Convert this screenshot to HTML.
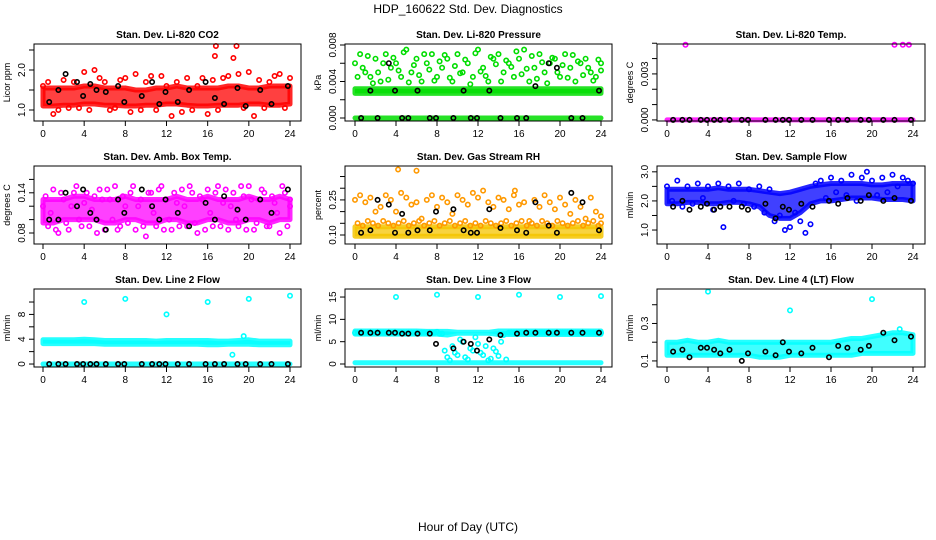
<!DOCTYPE html>
<html><head><meta charset="utf-8"><style>
body{margin:0;background:#fff;}
svg{display:block;font-family:"Liberation Sans",sans-serif;}
</style></head><body>
<svg id="chart" width="936" height="540" viewBox="0 0 936 540">
<text x="468" y="13" text-anchor="middle" font-size="12">HDP_160622  Std. Dev. Diagnostics</text>
<text x="468" y="531" text-anchor="middle" font-size="12">Hour of Day (UTC)</text>
</svg>
<script>
// ---------- data ----------
const xTicks=[0,4,8,12,16,20,24];
const halfHours=[0,0.5,1,1.5,2,2.5,3,3.5,4,4.5,5,5.5,6,6.5,7,7.5,8,8.5,9,9.5,10,10.5,11,11.5,12,12.5,13,13.5,14,14.5,15,15.5,16,16.5,17,17.5,18,18.5,19,19.5,20,20.5,21,21.5,22,22.5,23,23.5,24];
const hours=[0,1,2,3,4,5,6,7,8,9,10,11,12,13,14,15,16,17,18,19,20,21,22,23,24];
const blackHours=[0.6,1.5,2.2,3.3,3.9,4.6,5.2,6.1,7.3,7.9,9.6,10.6,11.3,11.9,13.1,14.2,15.8,16.7,17.6,18.9,19.7,21.1,22.2,23.8];

// CO2
const co2Lo=[1.1,1.1,1.12,1.12,1.15,1.15,1.12,1.12,1.1,1.1,1.12,1.12,1.15,1.15,1.12,1.1,1.1,1.12,1.12,1.12,1.15,1.15,1.12,1.12,1.15];
const co2Hi=[1.55,1.55,1.55,1.55,1.6,1.6,1.55,1.55,1.55,1.5,1.5,1.55,1.55,1.6,1.55,1.55,1.55,1.55,1.6,1.6,1.55,1.55,1.6,1.6,1.6];
const co2Sc=[1.6,1.7,0.9,1.0,1.75,1.05,1.7,1.05,1.95,1.0,2.0,1.8,1.7,1.0,1.05,1.75,1.8,0.95,1.9,1.0,1.7,1.85,1.0,1.85,1.6,0.85,1.7,0.95,1.8,1.0,1.6,1.8,0.9,1.75,1.0,1.8,1.85,2.3,1.9,1.05,1.95,0.85,1.75,1.05,1.7,1.85,1.9,1.05,1.8];
const co2OutH=[16.8,18.8,16.7];
const co2OutV=[2.6,2.6,2.35];
const co2Bk=[1.2,1.5,1.9,1.7,1.35,1.65,1.5,1.45,1.6,1.2,1.35,1.7,1.15,1.45,1.2,1.5,1.7,1.3,1.15,1.55,1.1,1.5,1.15,1.6];

// Pressure
const prLo=[0.0027,0.0027,0.0027,0.0027,0.0027,0.0027,0.0027,0.0027,0.0027,0.0027,0.0027,0.0027,0.0027,0.0027,0.0027,0.0027,0.0027,0.0027,0.0027,0.0027,0.0027,0.0027,0.0027,0.0027,0.0027];
const prHi=[0.0032,0.0032,0.0032,0.0032,0.0032,0.0032,0.0032,0.0032,0.0032,0.0032,0.0032,0.0032,0.0032,0.0032,0.0032,0.0032,0.0032,0.0032,0.0032,0.0032,0.0032,0.0032,0.0032,0.0032,0.0032];
const prZero=[0,0,0,0,0,0,0,0,0,0,0,0,0,0,0,0,0,0,0,0,0,0,0,0,0];
const prSc=[0.006,0.007,0.005,0.0045,0.0065,0.004,0.007,0.0055,0.006,0.0045,0.0075,0.005,0.0065,0.004,0.006,0.007,0.0045,0.0055,0.0065,0.004,0.007,0.005,0.006,0.0045,0.0075,0.0055,0.004,0.0065,0.007,0.005,0.006,0.0045,0.0065,0.0075,0.004,0.0055,0.007,0.005,0.006,0.0065,0.0045,0.007,0.0055,0.004,0.006,0.0065,0.005,0.0045,0.006];
const prSc2=[0.0045,0.0055,0.0068,0.0038,0.005,0.006,0.0042,0.0066,0.0052,0.0072,0.0039,0.0058,0.0047,0.007,0.0053,0.0041,0.0062,0.0069,0.0044,0.0057,0.0049,0.0064,0.0037,0.0071,0.0051,0.0046,0.0067,0.0059,0.004,0.0063,0.0056,0.0073,0.0048,0.0054,0.0068,0.0043,0.0061,0.0038,0.0066,0.005,0.0058,0.0044,0.0069,0.0062,0.0047,0.0055,0.0041,0.0064,0.0052];
const prBk=[0,0.003,0,0.006,0.003,0,0,0.003,0,0,0,0.003,0,0,0.003,0,0,0,0.0035,0.006,0.0055,0,0,0.003];

// Temp
const tpZero=[0,0,0,0,0,0,0,0,0,0,0,0,0,0,0,0,0,0,0,0,0,0,0,0,0];
const tpOutH=[1.8,22.2,23.0,23.6];
const tpOutV=[0.0049,0.0049,0.0049,0.0049];
const tpBk=[0,0,0,0,0,0,0,0,0,0,0,0,0,0,0,0,0,0,0,0,0,0,0,0];

// Amb box temp
const abLo=[0.095,0.095,0.1,0.1,0.1,0.1,0.095,0.095,0.1,0.1,0.095,0.095,0.1,0.1,0.095,0.095,0.1,0.1,0.095,0.095,0.1,0.1,0.095,0.1,0.1];
const abHi=[0.13,0.13,0.13,0.135,0.135,0.13,0.13,0.13,0.135,0.13,0.13,0.13,0.13,0.135,0.13,0.13,0.135,0.13,0.13,0.13,0.135,0.13,0.13,0.135,0.13];
const abSc=[0.12,0.09,0.145,0.08,0.13,0.085,0.14,0.1,0.125,0.09,0.135,0.145,0.085,0.13,0.15,0.09,0.12,0.14,0.085,0.13,0.075,0.14,0.09,0.15,0.13,0.085,0.125,0.145,0.09,0.14,0.08,0.13,0.145,0.09,0.15,0.125,0.085,0.14,0.09,0.135,0.15,0.085,0.13,0.14,0.09,0.125,0.08,0.14,0.12];
const abSc2=[0.135,0.11,0.085,0.14,0.095,0.12,0.15,0.09,0.14,0.115,0.08,0.13,0.145,0.1,0.085,0.135,0.095,0.15,0.12,0.09,0.14,0.11,0.145,0.085,0.1,0.14,0.09,0.12,0.15,0.095,0.135,0.085,0.11,0.14,0.09,0.145,0.12,0.1,0.15,0.085,0.13,0.095,0.145,0.09,0.135,0.11,0.15,0.09,0.13];
const abBk=[0.10,0.10,0.14,0.12,0.145,0.11,0.10,0.085,0.13,0.11,0.145,0.12,0.10,0.13,0.11,0.09,0.125,0.10,0.135,0.115,0.10,0.13,0.11,0.145];

// Gas stream RH
const rhLo=[0.095,0.095,0.095,0.095,0.095,0.095,0.095,0.095,0.095,0.095,0.095,0.095,0.095,0.095,0.095,0.095,0.095,0.095,0.095,0.095,0.095,0.095,0.095,0.095,0.095];
const rhHi=[0.135,0.135,0.135,0.135,0.135,0.135,0.135,0.135,0.135,0.135,0.135,0.135,0.135,0.135,0.135,0.135,0.135,0.135,0.135,0.135,0.135,0.135,0.135,0.135,0.135];
const rhSc=[0.25,0.27,0.24,0.26,0.2,0.22,0.27,0.25,0.2,0.28,0.26,0.23,0.24,0.17,0.25,0.27,0.22,0.26,0.24,0.19,0.27,0.25,0.23,0.28,0.26,0.29,0.24,0.22,0.26,0.25,0.21,0.27,0.23,0.24,0.16,0.25,0.22,0.27,0.24,0.21,0.26,0.23,0.19,0.25,0.22,0.17,0.26,0.2,0.18];
const rhSc2=[0.15,0.14,0.16,0.15,0.14,0.16,0.15,0.14,0.15,0.16,0.14,0.15,0.16,0.14,0.15,0.16,0.14,0.15,0.16,0.14,0.15,0.16,0.14,0.15,0.14,0.16,0.15,0.14,0.15,0.16,0.14,0.15,0.16,0.14,0.15,0.14,0.16,0.15,0.14,0.16,0.15,0.14,0.15,0.16,0.14,0.15,0.16,0.14,0.15];
const rhOutH=[4.2,6.0,15.6];
const rhOutV=[0.38,0.375,0.29];
const rhBk=[0.11,0.12,0.25,0.23,0.11,0.19,0.11,0.12,0.12,0.2,0.21,0.12,0.11,0.11,0.21,0.13,0.12,0.11,0.24,0.14,0.11,0.28,0.24,0.12];

// Sample flow
const sfLo=[1.9,1.9,1.95,1.95,1.9,1.9,1.95,1.95,1.9,1.8,1.5,1.4,1.4,1.6,1.9,2.0,2.0,2.05,2.1,2.1,2.1,2.05,2.05,2.05,2.0];
const sfHi=[2.4,2.4,2.4,2.4,2.4,2.45,2.4,2.4,2.4,2.35,2.3,2.25,2.3,2.4,2.5,2.55,2.6,2.6,2.6,2.6,2.55,2.55,2.6,2.6,2.6];
const sfSc=[2.5,2.0,2.7,1.8,2.5,1.9,2.6,2.1,2.5,1.7,2.6,1.1,2.5,2.0,2.6,1.9,2.4,1.8,2.5,1.6,2.4,1.3,1.5,1.0,1.1,1.6,1.3,0.9,1.2,2.6,2.7,2.1,2.8,2.3,2.7,2.2,2.9,2.0,2.8,3.0,2.7,2.2,2.8,2.3,2.9,2.5,2.8,2.7,2.6];
const sfBk=[1.8,2.0,1.7,1.8,1.9,1.7,1.8,1.8,1.8,1.7,1.9,1.4,1.8,1.7,1.9,1.8,2.0,1.9,2.1,2.0,2.2,2.0,2.1,2.0];

// Line 2 flow
const l2Lo=[3.3,3.3,3.3,3.3,3.3,3.3,3.2,3.2,3.2,3.2,3.2,3.2,3.2,3.2,3.2,3.2,3.1,3.1,3.2,3.2,3.2,3.1,3.1,3.1,3.1];
const l2Hi=[3.9,3.9,3.9,3.9,4.0,3.9,3.8,3.8,3.8,3.8,3.8,3.7,3.8,3.8,3.8,3.8,3.8,3.7,3.7,3.8,3.9,3.7,3.7,3.7,3.7];
const l2Zero=[0,0,0,0,0,0,0,0,0,0,0,0,0,0,0,0,0,0,0,0,0,0,0,0,0];
const l2OutH=[4,8,12,16,20,24,19.5,18.4];
const l2OutV=[10,10.5,8,10,10.5,11,4.5,1.5];
const l2Bk=[0,0,0,0,0,0,0,0,0,0,0,0,0,0,0,0,0,0,0,0,0,0,0,0];

// Line 3 flow
const l3Lo=[6.7,6.7,6.7,6.7,6.7,6.7,6.7,6.7,6.7,6.5,6.9,6.9,6.9,6.9,6.6,6.6,6.6,6.6,6.6,6.6,6.6,6.6,6.6,6.6,6.6];
const l3Hi=[7.4,7.4,7.4,7.4,7.4,7.4,7.4,7.3,7.3,7.3,7.1,7.1,7.1,7.1,7.4,7.4,7.4,7.4,7.4,7.4,7.4,7.4,7.4,7.4,7.4];
const l3Zero=[0.3,0.3,0.3,0.3,0.3,0.3,0.3,0.3,0.3,0.3,0.3,0.3,0.3,0.3,0.3,0.3,0.3,0.3,0.3,0.3,0.3,0.3,0.3,0.3,0.3];
const l3Sc=[7,7,7,7,7,7,7,7,7,7,7,7,7,7,7,7,7.2,6.8,1.5,4,2,5,1,3,4.5,2,0.8,3.5,1.8,6.5,7,7,7,7,7,7,7,7,7,7,7,7,7,7,7,7,7,7,7];
const l3Sc2=[7,7,7,7,7,7,7,7,7,7,7,7,7,7,7,7,6.8,3,0.8,2.5,5.5,1.5,3.5,6,2.5,4,1.2,2.8,5,1,7,7,7,7,7,7,7,7,7,7,7,7,7,7,7,7,7,7,7];
const l3OutH=[4,8,12,16,20,24];
const l3OutV=[15,15.5,15,15.5,15,15.2];
const l3Bk=[7,7,7,7,7,6.8,6.8,6.8,6.8,4.5,3.5,5,4.5,3,5.5,6.5,6.8,7,7,7,7,7,7,7];

// Line 4 flow
const l4Lo=[0.13,0.13,0.13,0.13,0.13,0.13,0.13,0.13,0.13,0.12,0.12,0.12,0.13,0.13,0.13,0.13,0.13,0.13,0.13,0.14,0.14,0.14,0.14,0.14,0.14];
const l4Hi=[0.2,0.2,0.21,0.2,0.2,0.21,0.2,0.2,0.2,0.2,0.2,0.2,0.2,0.2,0.2,0.2,0.2,0.21,0.22,0.22,0.23,0.24,0.25,0.25,0.24];
const l4OutH=[4,12,20,22.7];
const l4OutV=[0.47,0.37,0.43,0.27];
const l4Bk=[0.15,0.16,0.12,0.17,0.17,0.16,0.14,0.16,0.1,0.14,0.15,0.13,0.2,0.15,0.14,0.17,0.12,0.18,0.17,0.16,0.18,0.25,0.21,0.23];

// ---------- layout ----------
const colX=[{l:34,r:301,x0:43,x24:290},{l:345,r:612,x0:355,x24:601},{l:657,r:925,x0:667,x24:913}];
const rowY=[{t:44,b:121},{t:166,b:244},{t:289,b:367}];
const NS='http://www.w3.org/2000/svg';
const svg=document.getElementById('chart');
function mk(tag,attrs,parent){const e=document.createElementNS(NS,tag);for(const k in attrs)e.setAttribute(k,attrs[k]);(parent||svg).appendChild(e);return e;}

const panels=[
 {title:'Stan. Dev. Li-820 CO2',ylab:'Licor ppm',col:0,row:0,ymin:0.725,ymax:2.65,ticks:[1.0,1.5,2.0,2.5],labels:['1.0','','2.0',''],color:'#ff0000',band:'#ff0000',
  bands:[[co2Lo,co2Hi]],sc:[co2Sc],outH:co2OutH,outV:co2OutV,bk:co2Bk},
 {title:'Stan. Dev. Li-820 Pressure',ylab:'kPa',col:1,row:0,ymin:-0.00033,ymax:0.00811,ticks:[0,0.002,0.004,0.006,0.008],labels:['0.000','','0.004','','0.008'],color:'#00dd00',band:'#00dd00',
  bands:[[prLo,prHi],[prZero,prZero]],sc:[prSc,prSc2],outH:[],outV:[],bk:prBk},
 {title:'Stan. Dev. Li-820 Temp.',ylab:'degrees C',col:2,row:0,ymin:-0.00007,ymax:0.00495,ticks:[0,0.001,0.002,0.003,0.004,0.005],labels:['0.000','','','0.003','',''],color:'#ff00ff',band:'#ff00ff',
  bands:[[tpZero,tpZero]],sc:[],outH:tpOutH,outV:tpOutV,bk:tpBk},
 {title:'Stan. Dev. Amb. Box Temp.',ylab:'degrees C',col:0,row:1,ymin:0.0636,ymax:0.18,ticks:[0.08,0.10,0.12,0.14,0.16],labels:['0.08','','','0.14',''],color:'#ff00ff',band:'#ff00ff',
  bands:[[abLo,abHi]],sc:[abSc,abSc2],outH:[],outV:[],bk:abBk},
 {title:'Stan. Dev. Gas Stream RH',ylab:'percent',col:1,row:1,ymin:0.0615,ymax:0.395,ticks:[0.10,0.15,0.20,0.25,0.30,0.35],labels:['0.10','','','0.25','',''],color:'#ff9900',band:'#f5c400',
  bands:[[rhLo,rhHi]],sc:[rhSc,rhSc2],outH:rhOutH,outV:rhOutV,bk:rhBk},
 {title:'Stan. Dev. Sample Flow',ylab:'ml/min',col:2,row:1,ymin:0.52,ymax:3.2,ticks:[1.0,1.5,2.0,2.5,3.0],labels:['1.0','','2.0','','3.0'],color:'#0000ff',band:'#0000ff',
  bands:[[sfLo,sfHi]],sc:[sfSc],outH:[],outV:[],bk:sfBk},
 {title:'Stan. Dev. Line 2 Flow',ylab:'ml/min',col:0,row:2,ymin:-0.48,ymax:12.1,ticks:[0,2,4,6,8,10],labels:['0','','4','','8',''],color:'#00ffff',band:'#00ffff',
  bands:[[l2Lo,l2Hi],[l2Zero,l2Zero]],sc:[],outH:l2OutH,outV:l2OutV,bk:l2Bk},
 {title:'Stan. Dev. Line 3 Flow',ylab:'ml/min',col:1,row:2,ymin:-0.67,ymax:16.8,ticks:[0,5,10,15],labels:['0','5','10','15'],color:'#00ffff',band:'#00ffff',
  bands:[[l3Lo,l3Hi],[l3Zero,l3Zero]],sc:[l3Sc,l3Sc2],outH:l3OutH,outV:l3OutV,bk:l3Bk},
 {title:'Stan. Dev. Line 4 (LT) Flow',ylab:'ml/min',col:2,row:2,ymin:0.0676,ymax:0.484,ticks:[0.1,0.2,0.3,0.4],labels:['0.1','','0.3',''],color:'#00ffff',band:'#00ffff',
  bands:[[l4Lo,l4Hi]],sc:[],outH:l4OutH,outV:l4OutV,bk:l4Bk}
];

function circle(g,x,y,color,name){
  const c=mk('circle',{cx:x.toFixed(1),cy:y.toFixed(1),r:2.2,fill:'none',stroke:color,'stroke-width':1.6},g);
  
  
}

panels.forEach((p,pi)=>{
  const C=colX[p.col],R=rowY[p.row];
  const sx=h=>C.x0+(C.x24-C.x0)*h/24;
  const sy=v=>R.b-(v-p.ymin)/(p.ymax-p.ymin)*(R.b-R.t);
  const g=mk('g',{});
  
  
  const t=mk('text',{x:(C.l+C.r)/2,y:R.t-6,'text-anchor':'middle','font-size':10,'font-weight':'bold'},g);
  t.textContent=p.title;
  
  
  p.bands.forEach(([lo,hi])=>{
    let d='M'+hours.map((h,i)=>sx(h).toFixed(1)+','+sy(hi[i]).toFixed(1)).join('L');
    d+='L'+hours.slice().reverse().map((h,j)=>{const i=hours.length-1-j;return sx(h).toFixed(1)+','+sy(lo[i]).toFixed(1);}).join('L')+'Z';
    const b=mk('path',{d:d,fill:p.band,'fill-opacity':0.75,stroke:p.band,'stroke-opacity':0.85,'stroke-width':5,'stroke-linejoin':'round'},g);
    
    
  });
  p.sc.forEach((arr,si)=>{
    arr.forEach((v,i)=>circle(g,sx(Math.min(24,halfHours[i]+si*0.25)),sy(v),p.color,'data-point'));
  });
  p.outH.forEach((h,i)=>circle(g,sx(h),sy(p.outV[i]),p.color,'outlier-point'));
  p.bk.forEach((v,i)=>circle(g,sx(blackHours[i]),sy(v),'#000','hourly-point'));
  const box=mk('rect',{x:C.l,y:R.t,width:C.r-C.l,height:R.b-R.t,fill:'none',stroke:'#000','stroke-width':1},g);
  
  
  xTicks.forEach(h=>{
    const x=sx(h);
    mk('line',{x1:x,x2:x,y1:R.b,y2:R.b+5,stroke:'#000'},g);
    const tl=mk('text',{x:x,y:R.b+16,'text-anchor':'middle','font-size':10},g);
    tl.textContent=h;
    
    
  });
  p.ticks.forEach((v,i)=>{
    const y=sy(v);
    mk('line',{x1:C.l-5,x2:C.l,y1:y,y2:y,stroke:'#000'},g);
    if(p.labels[i]){
      const tl=mk('text',{x:C.l-9,y:y,'text-anchor':'middle','font-size':10,transform:'rotate(-90 '+(C.l-9)+' '+y+')'},g);
      tl.textContent=p.labels[i];
      
      
    }
  });
  const yl=mk('text',{x:C.l-24,y:(R.t+R.b)/2,'text-anchor':'middle','font-size':9,transform:'rotate(-90 '+(C.l-24)+' '+((R.t+R.b)/2)+')'},g);
  yl.textContent=p.ylab;
  
  
});
</script>
</body></html>
